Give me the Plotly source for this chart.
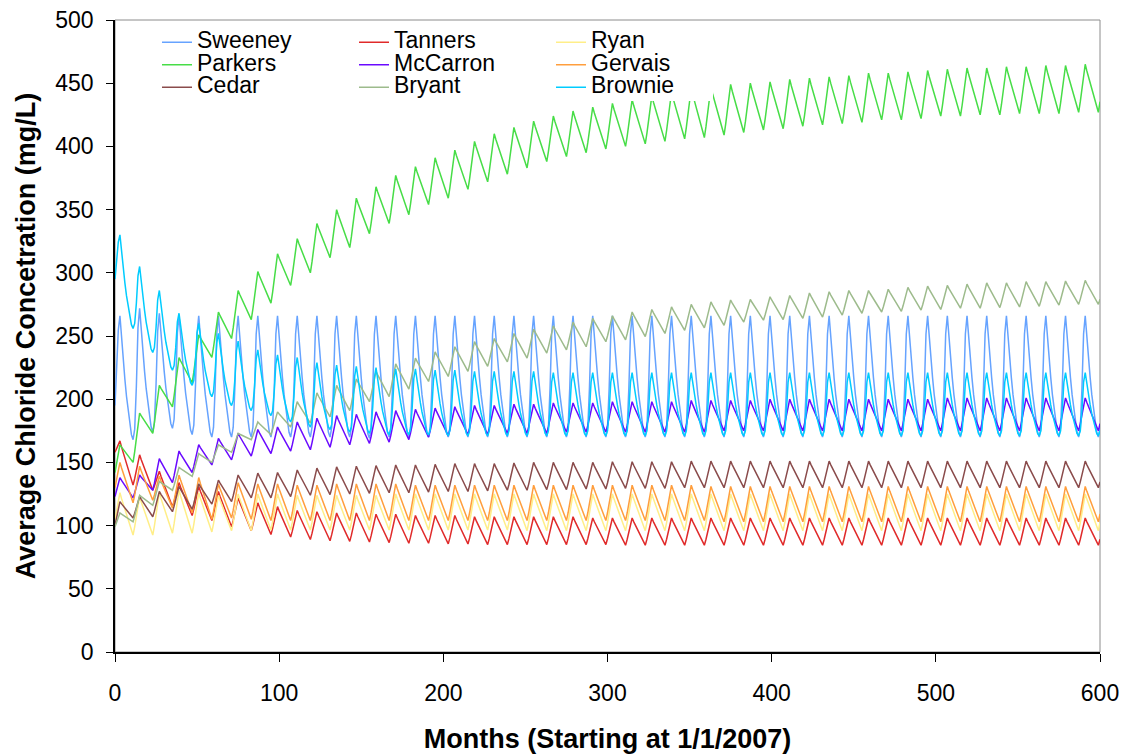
import plotly.graph_objects as go

# ---------------- data ----------------
months = list(range(0, 601))          # Months (starting at 1/1/2007)
tick_x = [0, 100, 200, 300, 400, 500, 600]
tick_y = [0, 50, 100, 150, 200, 250, 300, 350, 400, 450, 500]

# seasonal shape of one year (month-of-year 0..11), 1 = annual peak (month 3), 0 = annual low (month 11)
shape_saw = [0.22, 0.50, 0.78, 1.00, 0.86, 0.74, 0.61, 0.49, 0.37, 0.24, 0.11, 0.00]
shape_spike = [0.08, 0.40, 0.85, 1.00, 0.80, 0.64, 0.49, 0.35, 0.23, 0.12, 0.04, 0.00]

# value at month 0, yearly peaks (month 12k+3) and yearly lows (month 12k+11)
sweeney_start = 195
sweeney_peak = [266, 272, 268, 266, 266, 266, 266, 266, 266, 266,
                266, 266, 266, 266, 266, 266, 266, 266, 266, 266,
                266, 266, 266, 266, 266, 266, 266, 266, 266, 266,
                266, 266, 266, 266, 266, 266, 266, 266, 266, 266,
                266, 266, 266, 266, 266, 266, 266, 266, 266, 266]
sweeney_low = [168, 174, 177, 172, 170, 170, 170, 170, 170, 170,
               170, 170, 169, 170, 170, 170, 170, 170, 170, 170,
               170, 170, 170, 170, 170, 170, 170, 170, 170, 170,
               170, 170, 170, 170, 170, 170, 170, 170, 170, 170,
               170, 170, 170, 170, 170, 170, 170, 170, 170, 170]

tanners_start = 158
tanners_peak = [167, 156, 143, 134, 131, 127, 122, 118, 115, 112,
                111, 110, 110, 109, 109, 108, 108, 108, 107, 107,
                107, 107, 107, 107, 106, 106, 106, 106, 106, 106,
                106, 106, 106, 106, 106, 106, 106, 106, 106, 106,
                106, 106, 106, 106, 106, 106, 106, 106, 106, 106]
tanners_low = [132, 128, 115, 108, 104, 99, 96, 93, 91, 89,
               88, 87.5, 87, 86.5, 86, 86, 85.5, 85.5, 85, 85,
               85, 85, 85, 85, 85, 84.5, 84.5, 84.5, 84.5, 84.5,
               84.5, 84.5, 84.5, 84.5, 84.5, 84.5, 84.5, 84.5, 84.5, 84.5,
               84.5, 84.5, 84.5, 84.5, 84.5, 84.5, 84.5, 84.5, 84.5, 84.5]

ryan_start = 105
ryan_peak = [126, 123, 126, 128, 126, 124, 125, 125, 125, 124,
             124, 124, 124, 124, 125, 125, 125, 125, 125, 125,
             125, 125, 125, 125, 125, 125, 125, 125, 125, 125,
             125, 125, 125, 125, 125, 125, 125, 125, 125, 125,
             125, 125, 125, 125, 125, 125, 125, 125, 125, 125]
ryan_low = [92.5, 92.5, 94, 94, 95, 96, 96, 96.5, 96.5, 96.5,
            96.5, 96.5, 96.5, 96.5, 96.5, 96.5, 96.5, 96.5, 96.5, 96.5,
            96, 96, 96, 96, 96, 96, 96, 96, 96, 96,
            96, 96, 96, 96, 96, 96, 96, 96, 96, 96,
            96, 96, 96, 96, 96, 96, 96, 96, 96, 96]

parkers_start = 142
parkers_peak = [164, 189, 211, 233, 251, 269, 286, 301, 315, 327,
                339, 350, 359, 368, 377, 384, 391, 397, 404, 410,
                415, 420, 424, 428, 431, 434, 437, 440, 443, 446,
                447, 449, 450, 451, 453, 454, 455, 456, 458, 458,
                459, 460, 461, 462, 462, 463, 463, 464, 464, 465]
parkers_low = [150, 173, 194, 213, 233, 248, 263, 276, 290, 300,
               312, 320, 331, 339, 346, 354, 359, 366, 372, 378,
               383, 388, 392, 395, 398, 400, 402, 404, 406, 407,
               409, 411, 413, 414, 416, 417, 418, 419, 421, 421,
               422, 424, 424, 425, 425, 426, 426, 426, 427, 427]

mccarron_start = 123
mccarron_peak = [138, 140, 153, 159, 164, 169, 173, 176, 178, 182,
                 185, 187, 188, 190, 191, 192, 193, 194, 195, 195,
                 196, 196, 197, 197, 197, 198, 198, 198, 198, 199,
                 199, 199, 199, 200, 200, 200, 200, 200, 200, 200,
                 200, 200, 201, 201, 201, 201, 201, 201, 201, 201]
mccarron_low = [122, 128, 134, 142, 148, 152, 155, 157, 159, 160,
                162, 164, 165, 166, 168, 170, 171, 172, 172, 173,
                173, 173, 174, 174, 174, 174, 174, 174, 174, 174,
                175, 175, 175, 175, 175, 175, 175, 175, 175, 175,
                175, 175, 175, 175, 175, 175, 175, 175, 175, 175]

gervais_start = 130
gervais_peak = [150, 147, 139, 140, 138, 133, 134, 133, 133, 132,
                132, 133, 133, 133, 133, 132, 132, 132, 132, 132,
                132, 132, 132, 132, 132, 132, 132, 132, 132, 132,
                131, 131, 131, 131, 131, 131, 131, 131, 131, 131,
                131, 131, 131, 131, 131, 131, 131, 131, 131, 131]
gervais_low = [118, 120, 114, 110, 105, 106, 105, 104, 104, 104,
               104, 104, 104, 104, 104, 104, 104, 104, 104, 104,
               104, 104, 104, 104, 104, 104, 104, 104, 104, 104,
               103, 103, 103, 103, 103, 103, 103, 103, 103, 103,
               103, 103, 103, 103, 103, 103, 103, 103, 103, 103]

cedar_start = 100
cedar_peak = [119, 123, 127, 131, 133, 136, 140, 141.5, 142, 144,
              145.5, 146.5, 147, 147.5, 148, 148, 148.5, 149, 149, 149,
              149.5, 150, 150, 150, 150, 150.5, 150.5, 150.5, 150.5, 151,
              151, 151, 151, 151, 151, 151, 151, 151, 151, 151,
              151, 151, 151, 151, 151, 151, 151, 151, 151, 151]
cedar_low = [106, 107, 111, 113, 117, 119, 122, 122, 123, 124,
             124.5, 125, 125.5, 126, 126, 126.5, 127, 127, 127.5, 128,
             128, 128.5, 128.5, 129, 129, 129.5, 129.5, 129.5, 130, 130,
             130, 130, 130, 130, 130, 130, 130, 130, 130, 130,
             130, 130, 130, 130, 130, 130, 130, 130, 130, 130]

bryant_start = 99
bryant_peak = [110, 124, 135, 146, 157, 164, 173, 182, 190, 198,
               205, 211, 216, 222, 228, 232.5, 237.5, 241.5, 245.5, 248,
               252, 255.5, 258, 261, 264, 266, 269, 271, 273, 275,
               277, 278.5, 279, 281, 282, 284, 285, 286, 286, 287,
               288.5, 289.5, 290, 291, 292, 292, 293, 293, 293.5, 294]
bryant_low = [103, 116, 128, 139, 150, 158, 168, 172, 178, 181,
              186, 191, 198, 202, 208, 214, 218, 222, 226, 229.5,
              232.5, 236.5, 239, 241.5, 245.5, 247, 249.5, 252, 254.5, 256.5,
              258.5, 261, 262.5, 263, 264, 265, 266.5, 268, 269, 269.5,
              270.5, 271, 272, 272, 272.5, 273, 273.5, 274.5, 275, 275]

brownie_start = 295
brownie_peak = [330, 305, 286, 268, 260, 252, 246, 239, 235, 233,
                229, 227, 226, 225, 224, 224, 223, 223, 222, 222,
                222, 222, 221, 221, 221, 221, 221, 221, 221, 221,
                221, 221, 221, 221, 221, 221, 221, 221, 221, 221,
                221, 221, 221, 221, 221, 221, 221, 221, 221, 221]
brownie_low = [256, 237, 223, 211, 202, 195, 191, 187, 182, 178,
               176, 174, 173, 172, 172, 171.5, 171, 171, 171, 171,
               171, 171, 171, 171, 171, 171, 171, 171, 171, 171,
               171, 171, 171, 171, 171, 171, 171, 171, 171, 171,
               171, 171, 171, 171, 171, 171, 171, 171, 171, 171]

series_names = ["Sweeney", "Tanners", "Ryan", "Parkers", "McCarron",
                "Gervais", "Cedar", "Bryant", "Brownie"]
series_colors = ["#66A3FF", "#E02A2A", "#FFEE88", "#47DD47", "#6A0AFF",
                 "#FF9E3D", "#8A4B4B", "#9DBB8C", "#00CCFF"]


def monthly(start, peaks, lows, shape):
    vals = []
    for mo in months:
        k, m = divmod(mo, 12)
        if k >= len(peaks):
            vals.append(lows[-1] + shape[0] * (peaks[-1] - lows[-1]))
            continue
        p = peaks[k]
        if m < 3:
            if k == 0:
                f = (shape[m] - shape[0]) / (1 - shape[0])
                vals.append(start + f * (p - start))
            else:
                lo = lows[k - 1]
                vals.append(lo + shape[m] * (p - lo))
        else:
            lo = lows[k]
            vals.append(lo + shape[m] * (p - lo))
    return vals


series_values = [
    monthly(sweeney_start, sweeney_peak, sweeney_low, shape_spike),
    monthly(tanners_start, tanners_peak, tanners_low, shape_saw),
    monthly(ryan_start, ryan_peak, ryan_low, shape_saw),
    monthly(parkers_start, parkers_peak, parkers_low, shape_saw),
    monthly(mccarron_start, mccarron_peak, mccarron_low, shape_saw),
    monthly(gervais_start, gervais_peak, gervais_low, shape_saw),
    monthly(cedar_start, cedar_peak, cedar_low, shape_saw),
    monthly(bryant_start, bryant_peak, bryant_low, shape_saw),
    monthly(brownie_start, brownie_peak, brownie_low, shape_spike),
]
legend_of = ["legend", "legend2", "legend3", "legend", "legend2",
             "legend3", "legend", "legend2", "legend3"]

FONT = "Liberation Sans, Arial, sans-serif"

fig = go.Figure()
for name, col, vals, lg in zip(series_names, series_colors, series_values, legend_of):
    fig.add_trace(go.Scatter(
        x=months, y=vals, mode="lines", name=f'<span style="font-size:23px">{name}</span>',
        line=dict(color=col, width=1.5), legend=lg, hoverinfo="x+y"))

plot_l, plot_r, plot_t, plot_b = 115, 1100, 20, 652
pw, ph = plot_r - plot_l, plot_b - plot_t


def px(xp):
    return (xp - plot_l) / pw


def py(yp):
    return (plot_b - yp) / ph


leg_common = dict(font=dict(family=FONT, size=15, color="black"),
                  bgcolor="rgba(0,0,0,0)", borderwidth=0,
                  xanchor="left", yanchor="top", y=py(26), itemwidth=30,
                  orientation="v")

fig.update_layout(
    width=1127, height=754,
    margin=dict(l=plot_l, r=1127 - plot_r, t=plot_t, b=754 - plot_b, autoexpand=False),
    paper_bgcolor="white", plot_bgcolor="white",
    font=dict(family=FONT, color="black"),
    showlegend=True,
    legend=dict(x=px(157), **leg_common),
    legend2=dict(x=px(354), **leg_common),
    legend3=dict(x=px(551), **leg_common),
    xaxis=dict(range=[0, 600], tickvals=tick_x, ticks="outside", ticklen=8,
               tickwidth=1, tickcolor="black", showline=True, linecolor="black",
               linewidth=1.5, showgrid=False, zeroline=False,
               tickfont=dict(family=FONT, size=23, color="black"),
               ticklabelstandoff=12,
               title=dict(text="Months (Starting at 1/1/2007)",
                          font=dict(family=FONT, size=27, color="black", weight="bold"),
                          standoff=24)),
    yaxis=dict(range=[0, 500], tickvals=tick_y, ticks="outside", ticklen=7,
               tickwidth=1, tickcolor="black", showline=True, linecolor="black",
               linewidth=1.5, showgrid=False, zeroline=False,
               tickfont=dict(family=FONT, size=23, color="black"),
               ticklabelstandoff=8,
               title=dict(text="Average Chloride Concetration (mg/L)",
                          font=dict(family=FONT, size=27, color="black", weight="bold"),
                          standoff=12)),
    shapes=[
        dict(type="rect", xref="paper", yref="paper", x0=0, x1=1, y0=0, y1=1,
             line=dict(color="#8c8c8c", width=1), fillcolor="rgba(0,0,0,0)", layer="below"),
        dict(type="rect", xref="paper", yref="paper", x0=px(140), x1=px(713),
             y0=py(101), y1=py(23), line=dict(width=0), fillcolor="white", layer="above"),
    ],
)

fig.write_html("out.html")
